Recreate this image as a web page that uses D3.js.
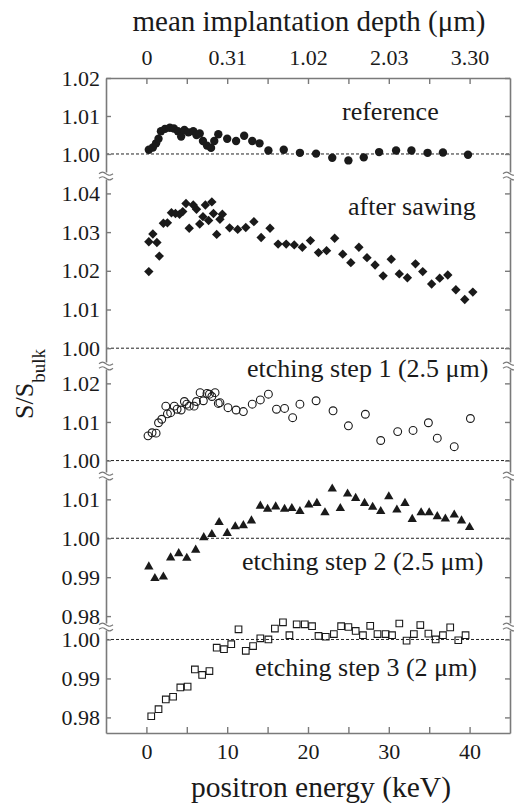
<!DOCTYPE html>
<html>
<head>
<meta charset="utf-8">
<script src="https://cdn.jsdelivr.net/npm/d3@7"></script>
<style>
body { margin: 0; background: #fff; }
svg { display: block; font-family: "Liberation Serif", "Times New Roman", serif; }
</style>
</head>
<body>
<div class="chart"></div>
<script>
// positron energy (keV) vs S/S_bulk, one array of [E, S] per sample
const reference = [
    [0.3, 1.0011], [0.8, 1.0017], [1.2, 1.0028], [1.5, 1.0040], [1.8, 1.0060], [2.3, 1.0066],
    [2.9, 1.0069], [3.4, 1.0067], [3.9, 1.0060], [4.3, 1.0046], [4.7, 1.0063], [5.2, 1.0057],
    [5.8, 1.0060], [6.2, 1.0050], [6.6, 1.0054], [7.0, 1.0034], [7.5, 1.0022], [8.0, 1.0016],
    [8.4, 1.0034], [8.9, 1.0052], [10.0, 1.0040], [11.1, 1.0034], [12.1, 1.0048], [13.1, 1.0034],
    [14.0, 1.0028], [15.1, 1.0009], [17.0, 1.0011], [19.0, 1.0003], [21.0, 1.0001], [23.0, 0.9990],
    [25.0, 0.9983], [26.9, 0.9991], [28.8, 1.0005], [30.9, 1.0009], [32.8, 1.0009], [34.8, 1.0003],
    [36.7, 1.0004], [39.8, 0.9998]
];

const afterSawing = [
    [0.3, 1.0198], [0.3, 1.0275], [0.8, 1.0295], [1.3, 1.0273], [1.6, 1.0238], [2.1, 1.0323],
    [2.6, 1.0324], [3.1, 1.0350], [3.6, 1.0348], [4.1, 1.0346], [4.5, 1.0353], [4.9, 1.0374],
    [5.3, 1.0310], [5.8, 1.0370], [6.2, 1.0359], [6.6, 1.0321], [7.0, 1.0340], [7.3, 1.0370],
    [7.7, 1.0330], [8.1, 1.0378], [8.3, 1.0348], [8.7, 1.0294], [9.1, 1.0333], [9.4, 1.0346],
    [10.3, 1.0311], [11.3, 1.0307], [12.3, 1.0312], [13.3, 1.0327], [14.2, 1.0286], [15.3, 1.0310],
    [16.3, 1.0269], [17.3, 1.0269], [18.3, 1.0267], [19.3, 1.0261], [20.3, 1.0278], [21.3, 1.0247],
    [22.3, 1.0252], [23.3, 1.0284], [24.3, 1.0243], [25.3, 1.0221], [26.3, 1.0261], [27.3, 1.0234],
    [28.3, 1.0215], [29.3, 1.0187], [30.3, 1.0230], [31.3, 1.0192], [32.3, 1.0182], [33.3, 1.0218],
    [34.2, 1.0198], [35.3, 1.0166], [36.3, 1.0181], [37.3, 1.0189], [38.3, 1.0151], [39.4, 1.0126],
    [40.4, 1.0145]
];

const etching1 = [
    [0.2, 1.0064], [0.7, 1.0072], [1.2, 1.0071], [1.5, 1.0098], [1.9, 1.0107], [2.4, 1.0141],
    [2.6, 1.0121], [3.0, 1.0124], [3.45, 1.0141], [3.8, 1.0133], [4.3, 1.0131], [4.7, 1.0153],
    [5.0, 1.0146], [5.3, 1.0141], [5.9, 1.0141], [6.2, 1.0153], [6.65, 1.0176], [7.05, 1.0155],
    [7.5, 1.0174], [7.8, 1.0172], [8.1, 1.0166], [8.5, 1.0176], [8.9, 1.0148], [9.1, 1.0150],
    [10.1, 1.0137], [11.1, 1.0131], [12.0, 1.0127], [13.1, 1.0146], [14.1, 1.0157], [15.1, 1.0172],
    [16.1, 1.0133], [17.1, 1.0135], [18.1, 1.0111], [19.0, 1.0146], [21.0, 1.0155], [23.1, 1.0129],
    [25.0, 1.0090], [27.1, 1.0120], [29.0, 1.0052], [31.1, 1.0075], [33.0, 1.0078], [34.9, 1.0098],
    [36.0, 1.0058], [38.1, 1.0036], [40.1, 1.0109]
];

const etching2 = [
    [0.3, 0.9927], [1.05, 0.9897], [2.1, 0.9901], [3.0, 0.9950], [4.0, 0.9961], [5.0, 0.9949],
    [6.1, 0.9970], [7.1, 1.0002], [8.1, 1.0010], [9.0, 1.0041], [10.0, 1.0013], [11.0, 1.0030],
    [12.0, 1.0033], [13.0, 1.0045], [14.1, 1.0083], [15.0, 1.0075], [16.0, 1.0081], [17.1, 1.0075],
    [18.0, 1.0077], [19.0, 1.0069], [20.1, 1.0086], [21.1, 1.0090], [22.1, 1.0066], [23.0, 1.0127],
    [24.0, 1.0077], [24.9, 1.0114], [25.9, 1.0103], [27.0, 1.0090], [28.0, 1.0080], [29.0, 1.0069],
    [30.0, 1.0107], [31.0, 1.0073], [32.0, 1.0090], [32.9, 1.0049], [34.0, 1.0066], [35.0, 1.0066],
    [36.0, 1.0056], [37.0, 1.0050], [38.1, 1.0060], [39.0, 1.0045], [40.0, 1.0028]
];

const etching3 = [
    [0.6, 0.9803], [1.5, 0.9821], [2.4, 0.9846], [3.3, 0.9853], [4.2, 0.9877], [5.1, 0.9879],
    [6.0, 0.9923], [6.9, 0.9909], [7.8, 0.9919], [8.7, 0.9979], [9.6, 0.9975], [10.5, 0.9988],
    [11.4, 1.0026], [12.3, 0.9971], [13.2, 0.9983], [14.1, 1.0003], [15.1, 1.0000], [15.9, 1.0028],
    [16.9, 1.0044], [17.7, 1.0011], [18.6, 1.0039], [19.6, 1.0039], [20.5, 1.0034], [21.3, 1.0009],
    [22.2, 1.0007], [23.2, 1.0014], [24.1, 1.0034], [25.0, 1.0032], [25.9, 1.0022], [26.8, 1.0011],
    [27.7, 1.0035], [28.6, 1.0014], [29.6, 1.0014], [30.4, 1.0011], [31.3, 1.0041], [32.2, 0.9997],
    [33.1, 1.0014], [33.9, 1.0037], [34.9, 1.0015], [35.8, 1.0000], [36.7, 1.0011], [37.6, 1.0031],
    [38.6, 0.9998], [39.5, 1.0011]
];

const sampleNames = ["reference", "after sawing", "etching step 1 (2.5 \u03bcm)",
    "etching step 2 (2.5 \u03bcm)", "etching step 3 (2 \u03bcm)"];

// y ticks of each broken panel
const panelTicks = [
    [1.00, 1.01, 1.02],
    [1.00, 1.01, 1.02, 1.03, 1.04],
    [1.00, 1.01, 1.02],
    [0.98, 0.99, 1.00, 1.01],
    [0.98, 0.99, 1.00]
];

// top axis: energy ticks and the mean implantation depth they correspond to
const energyTicks = [0, 5, 10, 15, 20, 25, 30, 35, 40];
const depthTickEnergy = [0, 10, 20, 30, 40];
const depthTickLabels = ["0", "0.31", "1.02", "2.03", "3.30"];


let chart = {};
chart.axisColor = "#7a7a7a";
chart.inkColor = "#1a1a1a";

chart.svg = d3.select(".chart").append("svg")
    .attr("width", 514)
    .attr("height", 804);

chart.x = d3.scaleLinear().domain([-5, 45]).range([106, 510]);

//each panel gets its own y scale, stacked with breaks in between
chart.panels = [
    {data: etching3, domain: [0.976, 1.0032], range: [733, 627], marker: "openSquare", lx: 255, ly: 676},
    {data: etching2, domain: [0.9772, 1.016], range: [627, 476], marker: "triangle", lx: 242, ly: 570},
    {data: etching1, domain: [0.996, 1.0245], range: [476, 366], marker: "openCircle", lx: 247, ly: 377},
    {data: afterSawing, domain: [0.9954, 1.0445], range: [366, 176], marker: "diamond", lx: 348, ly: 215},
    {data: reference, domain: [0.9942, 1.02], range: [176, 78], marker: "dot", lx: 342, ly: 120}
];
chart.panels.forEach((p, i) => {
    p.name = sampleNames[4 - i];
    p.ticks = panelTicks[4 - i];
    p.y = d3.scaleLinear().domain(p.domain).range(p.range);
});

function styleAxis(g) {
    g.attr("font-family", null);
    g.select(".domain").attr("stroke", chart.axisColor).attr("stroke-width", 1.6);
    g.selectAll(".tick line").attr("stroke", chart.axisColor).attr("stroke-width", 1.4);
    g.selectAll(".tick text")
        .attr("fill", chart.inkColor)
        .style("font-size", "22px")
        .style("font-family", "'Liberation Serif', serif");
}

// dashed reference lines at S/S_bulk = 1
chart.panels.forEach(p => {
    chart.svg.append("line")
        .attr("x1", chart.x.range()[0]).attr("x2", chart.x.range()[1])
        .attr("y1", p.y(1)).attr("y2", p.y(1))
        .attr("stroke", "#222")
        .attr("stroke-width", 1)
        .attr("stroke-dasharray", "3,2");
});

// left and right y axes
chart.panels.forEach(p => {
    let left = chart.svg.append("g")
        .attr("transform", `translate(${chart.x.range()[0]},0)`)
        .call(d3.axisLeft(p.y).tickValues(p.ticks).tickFormat(d3.format(".2f"))
            .tickSizeInner(-5).tickSizeOuter(0).tickPadding(6));
    styleAxis(left);

    let right = chart.svg.append("g")
        .attr("transform", `translate(${chart.x.range()[1]},0)`)
        .call(d3.axisRight(p.y).tickValues(p.ticks).tickFormat("")
            .tickSizeInner(-5).tickSizeOuter(0));
    styleAxis(right);
});

// top axis (depth) and bottom axis (energy)
chart.topAxis = chart.svg.append("g")
    .attr("transform", "translate(0,78)")
    .call(d3.axisTop(chart.x).tickValues(energyTicks)
        .tickFormat(d => {
            let k = depthTickEnergy.indexOf(d);
            return k < 0 ? "" : depthTickLabels[k];
        })
        .tickSizeInner(-6).tickSizeOuter(0).tickPadding(13));
styleAxis(chart.topAxis);

chart.bottomAxis = chart.svg.append("g")
    .attr("transform", "translate(0,733)")
    .call(d3.axisBottom(chart.x).tickValues(energyTicks)
        .tickFormat(d => d % 10 === 0 ? d : "")
        .tickSizeInner(-6).tickSizeOuter(0).tickPadding(10));
styleAxis(chart.bottomAxis);

// axis break marks
function breakMark(cx, cy) {
    chart.svg.append("rect")
        .attr("x", cx - 3).attr("y", cy - 3.5)
        .attr("width", 6).attr("height", 7)
        .attr("fill", "#fff");
    [-2.3, 2.3].forEach(off => {
        let pts = d3.range(0, 1.001, 0.125).map(t => [cx - 7 + 14 * t, cy + off - 1.7 * Math.sin(t * 2 * Math.PI)]);
        chart.svg.append("path")
            .attr("d", d3.line().curve(d3.curveBasis)(pts))
            .attr("fill", "none")
            .attr("stroke", chart.axisColor)
            .attr("stroke-width", 1.2);
    });
}
chart.panels.slice(0, 4).forEach(p => {
    breakMark(chart.x.range()[0], p.range[1]);
    breakMark(chart.x.range()[1], p.range[1]);
});

// markers
chart.symbols = {
    dot: {type: d3.symbolCircle, size: 55, fill: chart.inkColor, stroke: "none", rotate: 0},
    diamond: {type: d3.symbolSquare, size: 44, fill: chart.inkColor, stroke: "none", rotate: 45},
    openCircle: {type: d3.symbolCircle, size: 48, fill: "none", stroke: chart.inkColor, rotate: 0},
    triangle: {type: d3.symbolTriangle, size: 38, fill: chart.inkColor, stroke: "none", rotate: 0},
    openSquare: {type: d3.symbolSquare, size: 44, fill: "none", stroke: chart.inkColor, rotate: 0}
};

chart.panels.forEach(p => {
    let s = chart.symbols[p.marker];
    chart.svg.append("g").selectAll("path.point")
        .data(p.data)
        .enter().append("path")
        .attr("class", "point")
        .attr("d", d3.symbol().type(s.type).size(s.size))
        .attr("transform", d => `translate(${chart.x(d[0])},${p.y(d[1])}) rotate(${s.rotate})`)
        .attr("fill", s.fill)
        .attr("stroke", s.stroke)
        .attr("stroke-width", 1.1);

    chart.svg.append("text")
        .attr("x", p.lx).attr("y", p.ly)
        .attr("fill", chart.inkColor)
        .style("font-size", "26px")
        .text(p.name);
});

// axis titles
chart.svg.append("text")
    .attr("x", 309).attr("y", 31)
    .attr("text-anchor", "middle")
    .attr("fill", chart.inkColor)
    .style("font-size", "29px")
    .text("mean implantation depth (\u03bcm)");

chart.svg.append("text")
    .attr("x", 321).attr("y", 797)
    .attr("text-anchor", "middle")
    .attr("fill", chart.inkColor)
    .style("font-size", "29.5px")
    .text("positron energy (keV)");

chart.ylab = chart.svg.append("text")
    .attr("transform", "translate(33,419) rotate(-90)")
    .attr("fill", chart.inkColor)
    .style("font-size", "26px");
chart.ylab.append("tspan").text("S/S");
chart.ylab.append("tspan").attr("dy", 12).style("font-size", "19px").text("bulk");
</script>
</body>
</html>
